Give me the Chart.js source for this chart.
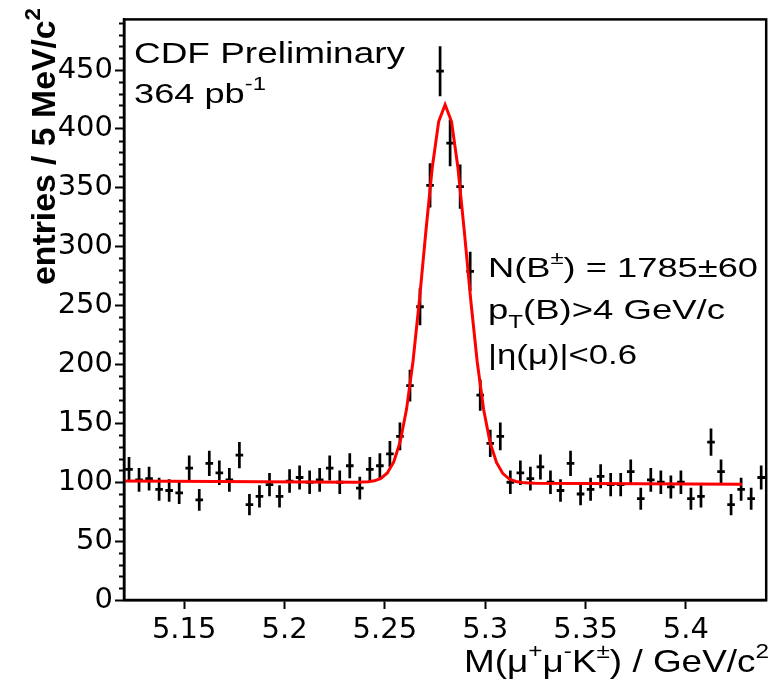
<!DOCTYPE html>
<html>
<head>
<meta charset="utf-8">
<script src="https://cdn.jsdelivr.net/npm/chart.js@4.4.1/dist/chart.umd.min.js"></script>
<style>
html,body{margin:0;padding:0;background:#fff;}
#wrap{width:773px;height:681px;position:relative;}
</style>
</head>
<body>
<div id="wrap"><canvas id="c"></canvas></div>
<script>
// ---- data ----
const binCenters = [5.1225,5.1275,5.1325,5.1375,5.1425,5.1475,5.1525,5.1575,5.1625,5.1675,
  5.1725,5.1775,5.1825,5.1875,5.1925,5.1975,5.2025,5.2075,5.2125,5.2175,
  5.2225,5.2275,5.2325,5.2375,5.2425,5.2475,5.2525,5.2575,5.2625,5.2675,
  5.2725,5.2775,5.2825,5.2875,5.2925,5.2975,5.3025,5.3075,5.3125,5.3175,
  5.3225,5.3275,5.3325,5.3375,5.3425,5.3475,5.3525,5.3575,5.3625,5.3675,
  5.3725,5.3775,5.3825,5.3875,5.3925,5.3975,5.4025,5.4075,5.4125,5.4175,
  5.4225,5.4275,5.4325,5.4375];
const counts = [111,102,103,94,93,91,112,85,116,108,
  102,123,81,88,98,88,101,104,100,102,
  112,100,114,95,111,114,124,139,182,249,
  352,449,388,351,279,174,133,139,100,108,
  103,113,100,93,116,90,94,105,98,98,
  109,86,102,100,96,100,86,88,134,109,
  81,94,86,104];
const errors = [10.5,10.1,10.1,9.7,9.6,9.5,10.6,9.2,10.8,10.4,
  10.1,11.1,9.0,9.4,9.9,9.4,10.0,10.2,10.0,10.1,
  10.6,10.0,10.7,9.7,10.5,10.7,11.1,11.8,13.5,15.8,
  18.8,21.2,19.7,18.7,16.7,13.2,11.5,11.8,10.0,10.4,
  10.1,10.6,10.0,9.6,10.8,9.5,9.7,10.2,9.9,9.9,
  10.4,9.3,10.1,10.0,9.8,10.0,9.3,9.4,11.6,10.4,
  9.0,9.7,9.3,10.2];
const fitMass = [5.12,5.2352,5.2384,5.2416,5.2448,5.248,5.2512,5.2544,5.2576,5.2608,
  5.264,5.2672,5.2704,5.2736,5.2768,5.28,5.2832,5.2864,5.2896,5.2928,
  5.296,5.2992,5.3024,5.3056,5.3088,5.312,5.3152,5.3184,5.3216,5.3248,5.428];
const fitValues = [101.0,100.0,100.1,100.4,101.2,103.3,107.9,117.2,134.2,162.1,
  202.5,254.5,312.7,367.2,406.3,420.6,406.3,367.0,312.5,254.3,
  202.3,161.7,133.8,116.8,107.3,102.7,100.6,99.7,99.4,99.2,98.3];
const xTicks = [5.15,5.2,5.25,5.3,5.35,5.4];
const yTicks = [0,50,100,150,200,250,300,350,400,450];
const yMinorStep = 10;

const SANS = '"Liberation Sans", Arial, Helvetica, sans-serif';

function drawRich(ctx, segs, o) {
  const supSize = o.size * 0.66;
  let w = 0;
  const parts = segs.map(s => {
    const sz = s.s ? supSize : o.size;
    ctx.font = `${o.weight || 'normal'} ${sz}px ${SANS}`;
    const mw = ctx.measureText(s.t).width;
    w += mw;
    return {t: s.t, s: s.s, sz, mw};
  });
  const sx = o.width ? o.width / w : 1;
  ctx.save();
  ctx.translate(o.x, o.y);
  if (o.rotate) ctx.rotate(o.rotate);
  ctx.scale(sx, 1);
  ctx.fillStyle = '#000';
  ctx.textBaseline = 'alphabetic';
  ctx.textAlign = 'left';
  let cx = 0;
  parts.forEach(p => {
    ctx.font = `${o.weight || 'normal'} ${p.sz}px ${SANS}`;
    let dy = 0;
    if (p.s === 'sup') dy = -o.size * 0.45;
    if (p.s === 'sub') dy = o.size * 0.33;
    ctx.fillText(p.t, cx, dy);
    cx += p.mw;
  });
  ctx.restore();
}

const histPlugin = {
  id: 'hist',
  beforeDraw(chart) {
    const ctx = chart.ctx;
    ctx.save();
    ctx.fillStyle = '#fff';
    ctx.fillRect(0, 0, chart.width, chart.height);
    ctx.restore();
  },
  beforeDatasetsDraw(chart) {
    const {ctx, chartArea: a, scales: {x, y}} = chart;
    ctx.save();
    ctx.beginPath();
    ctx.rect(a.left, a.top, a.right - a.left, a.bottom - a.top);
    ctx.clip();
    ctx.strokeStyle = '#000';
    ctx.lineWidth = 2.7;
    binCenters.forEach((m, i) => {
      const px = x.getPixelForValue(m);
      ctx.beginPath();
      ctx.moveTo(px, y.getPixelForValue(counts[i] - errors[i]));
      ctx.lineTo(px, y.getPixelForValue(counts[i] + errors[i]));
      ctx.stroke();
    });
    ctx.restore();
  },
  afterDraw(chart) {
    const {ctx, chartArea: a, scales: {y}} = chart;
    ctx.save();
    ctx.strokeStyle = '#000';
    ctx.lineWidth = 2.5;
    ctx.strokeRect(a.left, a.top, a.right - a.left, a.bottom - a.top);
    ctx.lineWidth = 2;
    for (let v = yMinorStep; v < y.max; v += yMinorStep) {
      if (v % 50 === 0) continue;
      const py = Math.round(y.getPixelForValue(v)) + 0.5;
      ctx.beginPath();
      ctx.moveTo(a.left - 5, py);
      ctx.lineTo(a.left, py);
      ctx.stroke();
    }
    ctx.restore();
    drawRich(ctx, [{t: 'CDF Preliminary'}], {x: 134, y: 63, size: 30, width: 271});
    drawRich(ctx, [{t: '364 pb'}, {t: '-1', s: 'sup'}], {x: 134, y: 103, size: 28, width: 132});
    drawRich(ctx, [{t: 'N(B'}, {t: '\u00B1', s: 'sup'}, {t: ') = 1785\u00B160'}], {x: 488, y: 277, size: 28, width: 270});
    drawRich(ctx, [{t: 'p'}, {t: 'T', s: 'sub'}, {t: '(B)>4 GeV/c'}], {x: 488, y: 319, size: 28, width: 237});
    drawRich(ctx, [{t: '|\u03B7(\u03BC)|<0.6'}], {x: 488, y: 364, size: 28, width: 149});
    drawRich(ctx, [{t: 'M(\u03BC'}, {t: '+', s: 'sup'}, {t: '\u03BC'}, {t: '-', s: 'sup'}, {t: 'K'}, {t: '\u00B1', s: 'sup'}, {t: ') / GeV/c'}, {t: '2', s: 'sup'}],
      {x: 464, y: 672, size: 32, width: 305});
    drawRich(ctx, [{t: 'entries / 5 MeV/c'}, {t: '2', s: 'sup'}],
      {x: 55, y: 285, size: 34, weight: 'bold', width: 277, rotate: -Math.PI / 2});
  }
};

const tickFont = {family: '"DejaVu Sans", "Liberation Sans", sans-serif', size: 29};

new Chart(document.getElementById('c'), {
  type: 'scatter',
  data: {
    datasets: [
      {
        label: 'fit',
        data: fitMass.map((m, i) => ({x: m, y: fitValues[i]})),
        showLine: true,
        borderColor: '#ff0000',
        borderWidth: 3,
        pointRadius: 0,
        tension: 0,
        order: 0
      },
      {
        label: 'data',
        data: binCenters.map((m, i) => ({x: m, y: counts[i]})),
        showLine: false,
        pointStyle: 'line',
        pointRadius: 3.8,
        pointBorderWidth: 2.8,
        borderColor: '#000',
        backgroundColor: '#000',
        order: 1
      }
    ]
  },
  options: {
    responsive: true,
    maintainAspectRatio: false,
    animation: false,
    events: [],
    layout: {padding: {top: 11, right: 4, left: 0, bottom: 0}},
    plugins: {legend: {display: false}, tooltip: {enabled: false}},
    scales: {
      x: {
        type: 'linear',
        min: 5.12,
        max: 5.44,
        afterBuildTicks: s => { s.ticks = xTicks.map(v => ({value: v})); },
        afterFit: s => { s.height = 81; },
        ticks: {
          callback: v => String(v),
          color: '#000',
          font: tickFont,
          padding: 4,
          maxRotation: 0,
          autoSkip: false
        },
        grid: {display: true, drawOnChartArea: false, drawTicks: true, tickLength: 9, tickWidth: 2, tickColor: '#000'},
        border: {display: true, color: '#000', width: 2.5}
      },
      y: {
        type: 'linear',
        min: 0,
        max: 493,
        afterBuildTicks: s => { s.ticks = yTicks.map(v => ({value: v})); },
        afterFit: s => { s.width = 124; },
        ticks: {
          callback: v => String(v),
          color: '#000',
          font: tickFont,
          padding: 2,
          autoSkip: false
        },
        grid: {display: true, drawOnChartArea: false, drawTicks: true, tickLength: 9, tickWidth: 2, tickColor: '#000'},
        border: {display: true, color: '#000', width: 2.5}
      }
    }
  },
  plugins: [histPlugin]
});
</script>
</body>
</html>
